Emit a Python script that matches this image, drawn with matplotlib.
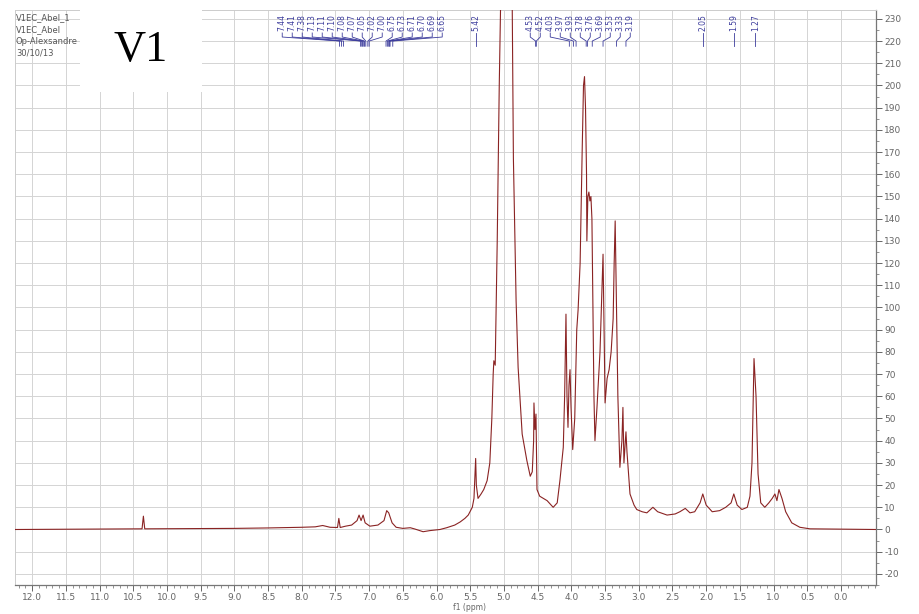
import numpy as np
import matplotlib.pyplot as plt
import matplotlib.transforms as mtransforms
from matplotlib.patches import Rectangle
from matplotlib.ticker import MultipleLocator

# %%
# spectrum trace: (ppm, intensity)
ppm = [12.25, 11.5, 11.0, 10.4, 10.37, 10.35, 10.33, 9.5, 9.0, 8.5, 8.0, 7.8,
       7.69, 7.58, 7.47, 7.45, 7.43, 7.35, 7.26, 7.18, 7.15, 7.12, 7.09, 7.06,
       6.99, 6.87, 6.78, 6.74, 6.71, 6.66, 6.60, 6.50, 6.39, 6.32, 6.20, 6.10,
       5.95, 5.85, 5.73, 5.65, 5.58, 5.53, 5.47, 5.445, 5.42, 5.41, 5.385, 5.34,
       5.30, 5.25, 5.21, 5.18, 5.16, 5.15, 5.13, 5.10, 5.07, 5.05, 5.03, 4.96,
       4.90, 4.877, 4.86, 4.82, 4.79, 4.73, 4.66, 4.61, 4.58, 4.56, 4.555, 4.54,
       4.525, 4.51, 4.47, 4.36, 4.27, 4.21, 4.17, 4.12, 4.10, 4.08, 4.065, 4.05,
       4.035, 4.02, 4.005, 3.98, 3.95, 3.92, 3.90, 3.87, 3.84, 3.82, 3.805, 3.79,
       3.775, 3.77, 3.755, 3.74, 3.725, 3.71, 3.695, 3.68, 3.665, 3.65, 3.62,
       3.575, 3.545, 3.53, 3.515, 3.50, 3.47, 3.44, 3.41, 3.38, 3.365, 3.35,
       3.335, 3.31, 3.28, 3.25, 3.235, 3.22, 3.19, 3.175, 3.13, 3.07, 3.03, 2.95,
       2.88, 2.79, 2.72, 2.58, 2.46, 2.39, 2.31, 2.24, 2.17, 2.09, 2.05, 2.00,
       1.91, 1.80, 1.71, 1.63, 1.59, 1.54, 1.47, 1.39, 1.35, 1.32, 1.29, 1.26,
       1.23, 1.19, 1.13, 1.07, 1.02, 0.98, 0.95, 0.92, 0.875, 0.82, 0.73, 0.61,
       0.46, -0.52]
intensity = [0.0, 0.1, 0.2, 0.3, 0.3, 6.0, 0.3, 0.4, 0.5, 0.7, 1.0, 1.2,
             1.8, 1.0, 0.9, 5.0, 0.9, 1.5, 2.0, 4.0, 6.5, 4.0, 6.5, 3.0,
             1.5, 2.0, 4.0, 8.5, 7.5, 3.0, 1.0, 0.5, 0.8, 0.2, -1.0, -0.5,
             0.0, 0.8, 2.0, 3.4, 5.0, 6.5, 10.0, 14.0, 32.0, 20.0, 14.0, 16.0,
             18.0, 22.0, 30.0, 50.0, 70.0, 76.0, 74.0, 130.0, 200.0, 234.0, 300.0, 420.0,
             300.0, 234.0, 167.0, 103.0, 73.0, 43.0, 31.0, 24.0, 26.0, 40.0, 57.0, 45.0,
             52.0, 18.0, 15.0, 13.0, 10.0, 12.0, 22.0, 37.0, 60.0, 97.0, 60.0, 46.0,
             65.0, 72.0, 55.0, 36.0, 50.0, 90.0, 99.0, 120.0, 170.0, 200.0, 204.0, 190.0,
             160.0, 130.0, 150.0, 152.0, 148.0, 150.0, 140.0, 100.0, 60.0, 40.0, 55.0,
             80.0, 110.0, 124.0, 90.0, 57.0, 68.0, 72.0, 80.0, 95.0, 120.0, 139.0,
             110.0, 60.0, 28.0, 40.0, 55.0, 30.0, 44.0, 35.0, 16.0, 11.0, 9.0, 8.0,
             7.5, 10.0, 8.0, 6.5, 7.0, 8.0, 9.5, 7.5, 8.0, 12.0, 16.0, 11.0,
             8.0, 8.5, 10.0, 12.0, 16.0, 11.0, 9.0, 10.0, 15.0, 30.0, 77.0, 60.0,
             25.0, 12.0, 10.0, 12.0, 14.0, 16.0, 13.0, 18.0, 14.0, 8.0, 3.0, 1.0,
             0.3, 0.0]

# picked peaks (labels at the top)
aromatic_peaks = [7.44, 7.41, 7.38, 7.13, 7.11, 7.10, 7.08, 7.07, 7.05, 7.02,
                  7.00, 6.75, 6.73, 6.71, 6.70, 6.69, 6.65]
sugar_peaks = [4.53, 4.52, 4.03, 3.97, 3.93, 3.78, 3.76, 3.69, 3.53, 3.33, 3.19]
single_peaks = [5.42, 2.05, 1.59, 1.27]

header_lines = ["V1EC_Abel_1", "V1EC_Abel", "Op-Alexsandre", "30/10/13"]
x_ticks = np.arange(0, 12.01, 0.5)
y_ticks = np.arange(-20, 231, 10)

BLUE = "#3c3c9c"
RED = "#8a2323"
GRAY = "#666666"

# %%
fig = plt.figure(figsize=(9.19, 6.14), dpi=100)
ax = fig.add_axes([15 / 919, 29 / 614, 861 / 919, 575 / 614])

ax.plot(ppm, intensity, color=RED, lw=0.8, zorder=3)
ax.set_xlim(12.255, -0.52)
ax.set_ylim(-25, 234)

ax.set_xticks(x_ticks)
ax.set_xticklabels([f"{t:.1f}" for t in x_ticks])
ax.set_yticks(y_ticks)
ax.set_yticklabels([f"{t:d}" for t in y_ticks])
ax.xaxis.set_minor_locator(MultipleLocator(0.1))
ax.yaxis.set_minor_locator(MultipleLocator(5))
ax.yaxis.tick_right()
ax.tick_params(which="major", length=4, width=0.7, color=GRAY, labelcolor=GRAY,
               labelsize=6.5, direction="out", pad=2)
ax.tick_params(which="minor", length=2, width=0.5, color=GRAY)
ax.grid(True, which="major", color="#d4d4d4", lw=0.7, zorder=0)

for side in ["top", "left"]:
    ax.spines[side].set_color("#cccccc")
    ax.spines[side].set_linewidth(0.7)
for side in ["bottom", "right"]:
    ax.spines[side].set_color("#777777")
    ax.spines[side].set_linewidth(0.9)

fig.text(470 / 919, 1 - 607 / 614, "f1 (ppm)", fontsize=5.5, color=GRAY,
         ha="center", va="center")

# %%
# peak labels with connector lines
trans = mtransforms.blended_transform_factory(ax.transData, ax.transAxes)
step = 10 / 67.4


def draw_labels(values, label_x):
    for v, lx in zip(values, label_x):
        ax.text(lx, 0.993, f"{v:.2f}", rotation=90, ha="center", va="top",
                fontsize=5.5, color=BLUE, transform=trans, zorder=5)
        ax.plot([lx, lx, v, v], [0.960, 0.953, 0.946, 0.937], color=BLUE,
                lw=0.6, transform=trans, clip_on=False, zorder=5)


draw_labels(aromatic_peaks, [8.29 - i * step for i in range(len(aromatic_peaks))])
draw_labels(sugar_peaks, [4.61 - i * step for i in range(len(sugar_peaks))])
draw_labels(single_peaks, single_peaks)

# %%
# header text and the white "V1" box
for i, line in enumerate(header_lines):
    fig.text(16 / 919, 1 - (18 + i * 11.7) / 614, line, fontsize=6, color="#555555",
             ha="left", va="center", zorder=8)

fig.add_artist(Rectangle((80 / 919, 1 - 92 / 614), 122 / 919, 92 / 614,
                         transform=fig.transFigure, facecolor="white",
                         edgecolor="none", zorder=10))
fig.text(141 / 919, 1 - 50 / 614, "V1", fontsize=32, family="Liberation Serif",
         ha="center", va="center", color="black", zorder=11)

fig.savefig("out.png", dpi=100)
